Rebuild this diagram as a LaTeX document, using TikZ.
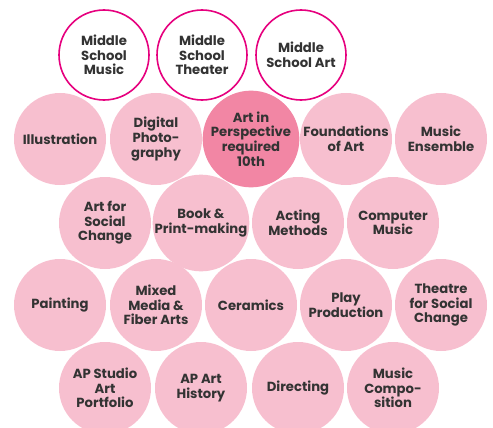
\documentclass[tikz,border=0pt]{standalone}
\usepackage{fontspec}
\setmainfont{Poppins}
\definecolor{pinkfill}{HTML}{F7BFCF}
\definecolor{pinkdark}{HTML}{F286A4}
\definecolor{magentaline}{HTML}{E6007E}
\definecolor{txt}{HTML}{333333}
\begin{document}
\begin{tikzpicture}[x=1pt,y=-1pt,
  course/.style={circle,minimum size=92pt,inner sep=0pt,align=center,
    text=txt,font=\fontsize{13.2}{14.6}\selectfont\bfseries},
  elective/.style={course,fill=pinkfill},
  required/.style={course,fill=pinkdark},
  prior/.style={course,draw=magentaline,line width=1.6pt,fill=white,minimum size=90pt}]
\useasboundingbox (0,0) rectangle (493,428);
\clip (0,0) rectangle (493,428);
% row 1
\node[prior] (msm) at (104,55) {Middle\\School\\Music};
\node[prior] (mst) at (202,55) {Middle\\School\\Theater};
\node[prior] (msa) at (301,55) {Middle\\School Art};
% row 2
\node[elective] (ill) at (60,139) {Illustration};
\node[elective] (dph) at (156,139) {Digital\\Photo-\\graphy};
\node[required] (aip) at (251,139) {Art in\\Perspective\\required\\10th};
\node[elective] (foa) at (346,139) {Foundations\\of Art};
\node[elective] (mue) at (441,139) {Music\\Ensemble};
% row 3
\node[elective] (asc) at (105,223) {Art for\\Social\\Change};
\node[elective] (bpm) at (201,223) {Book \&\\Print-making};
\node[elective] (acm) at (298,223) {Acting\\Methods};
\node[elective] (com) at (393,223) {Computer\\Music};
% row 4
\node[elective] (pnt) at (60,305) {Painting};
\node[elective] (mmf) at (156,305) {Mixed\\Media \&\\Fiber Arts};
\node[elective] (cer) at (251,305) {Ceramics};
\node[elective] (ppr) at (346,305) {Play\\Production};
\node[elective] (tsc) at (441,305) {Theatre\\for Social\\Change};
% row 5
\node[elective] (aps) at (105,388) {AP Studio\\Art\\Portfolio};
\node[elective] (aph) at (201,388) {AP Art\\History};
\node[elective] (dir) at (298,388) {Directing};
\node[elective] (muc) at (393,388) {Music\\Compo-\\sition};
\end{tikzpicture}
\end{document}
